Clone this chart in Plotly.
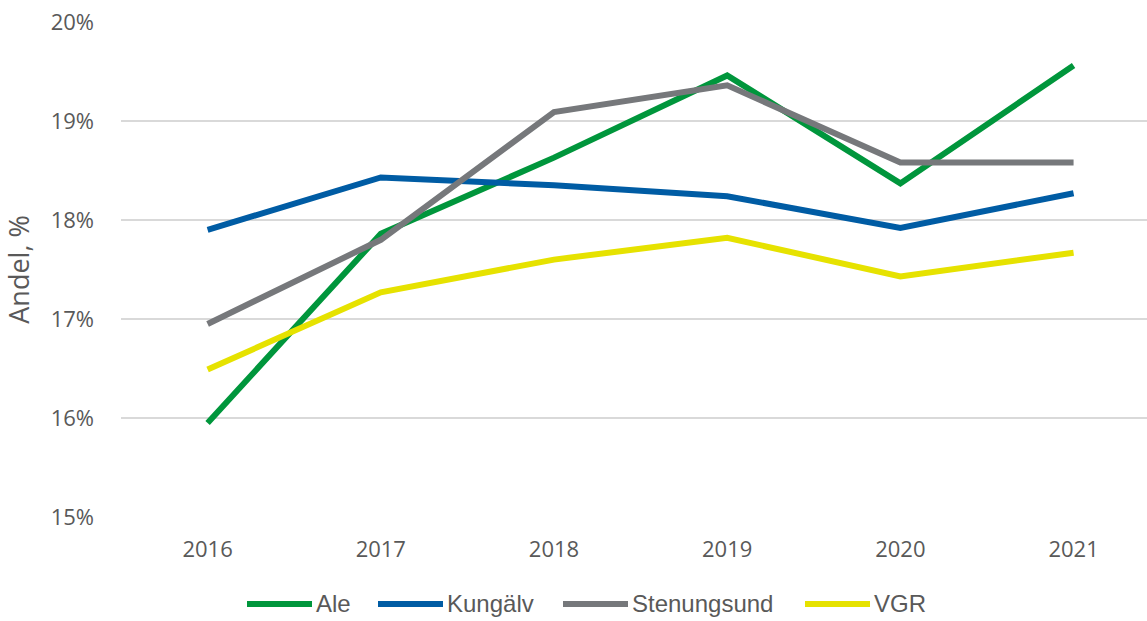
import plotly.graph_objects as go

# Andel per år, procent
years = ["2016", "2017", "2018", "2019", "2020", "2021"]
ale = [15.95, 17.86, 18.63, 19.46, 18.37, 19.56]
kungalv = [17.90, 18.43, 18.35, 18.24, 17.92, 18.27]
stenungsund = [16.95, 17.80, 19.09, 19.36, 18.58, 18.58]
vgr = [16.49, 17.27, 17.60, 17.82, 17.43, 17.67]

y_ticks = [15, 16, 17, 18, 19, 20]
y_ticktext = ["15%", "16%", "17%", "18%", "19%", "20%"]

series = [
    ("Ale", ale, "#00963c"),
    ("Kungälv", kungalv, "#005ca4"),
    ("Stenungsund", stenungsund, "#76787b"),
    ("VGR", vgr, "#e6e200"),
]

W, H = 1147, 621
M_L, M_R, M_T, M_B = 121, 0, 22, 104
PLOT_W = W - M_L - M_R
PLOT_H = H - M_T - M_B

text_color = "#595959"
tick_font = dict(family="Open Sans, sans-serif", size=22, color=text_color)

fig = go.Figure()
for name, values, color in series:
    fig.add_trace(go.Scatter(
        x=years, y=values, name=name, mode="lines",
        line=dict(color=color, width=6),
        hoverinfo="x+y+name",
    ))


def px_x(px):
    return (px - M_L) / PLOT_W


def px_y(py):
    return (H - M_B - py) / PLOT_H


# Legend row below the chart: long swatch followed by the series name
legend_starts = [247, 378, 563, 805]
swatch_len = 65
legend_y = 604
for (name, _, color), x0 in zip(series, legend_starts):
    fig.add_shape(
        type="line", xref="paper", yref="paper",
        x0=px_x(x0), x1=px_x(x0 + swatch_len),
        y0=px_y(legend_y), y1=px_y(legend_y),
        line=dict(color=color, width=6),
    )
    fig.add_annotation(
        xref="paper", yref="paper",
        x=px_x(x0 + swatch_len + 2), y=px_y(legend_y - 1),
        xanchor="left", yanchor="middle",
        text=name, showarrow=False,
        font=dict(family="Liberation Sans, Arial, sans-serif", size=24, color=text_color),
    )

fig.update_layout(
    width=W, height=H,
    margin=dict(l=M_L, r=M_R, t=M_T, b=M_B),
    paper_bgcolor="white", plot_bgcolor="white",
    showlegend=False,
    xaxis=dict(
        type="category",
        range=[-0.5, 5.424],
        showgrid=False, zeroline=False, showline=False,
        ticks="", tickfont=tick_font,
        ticklabelstandoff=17,
    ),
    yaxis=dict(
        range=[15, 20],
        tickvals=y_ticks, ticktext=y_ticktext,
        showgrid=True, gridcolor="#d9d9d9", gridwidth=2,
        zeroline=False, showline=False,
        ticks="", tickfont=tick_font,
        ticklabelstandoff=26,
        title=dict(text="Andel, %",
                   font=dict(family="Open Sans, sans-serif", size=27, color=text_color),
                   standoff=14),
    ),
)

fig.write_html("out.html")
